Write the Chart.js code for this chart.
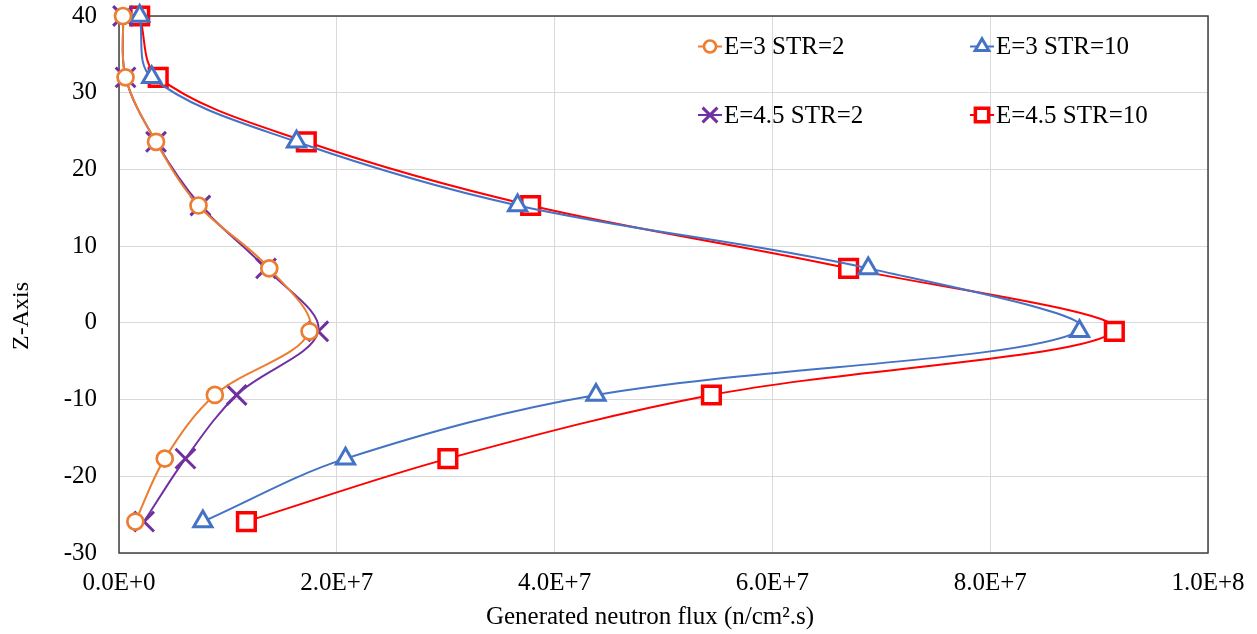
<!DOCTYPE html>
<html>
<head>
<meta charset="utf-8">
<script src="https://cdn.jsdelivr.net/npm/chart.js@4/dist/chart.umd.min.js"></script>
<style>
html,body{margin:0;padding:0;background:#fff;}
canvas{display:block;}
</style>
</head>
<body>
<canvas id="c" width="1257" height="634"></canvas>
<script>
// Z positions (y axis)
const zAxis = [40, 32, 23.6, 15.3, 7.1, -1.1, -9.4, -17.7, -25.9];
// Generated neutron flux (x axis) per series
const fluxE3S2   = [3.7e5, 6.0e5, 3.4e6, 7.3e6, 1.38e7, 1.75e7, 8.8e6, 4.2e6, 1.5e6];
const fluxE3S10  = [1.9e6, 3.0e6, 1.63e7, 3.66e7, 6.88e7, 8.82e7, 4.38e7, 2.08e7, 7.7e6];
const fluxE45S2  = [3.7e5, 6.0e5, 3.4e6, 7.47e6, 1.35e7, 1.83e7, 1.08e7, 6.1e6, 2.3e6];
const fluxE45S10 = [1.9e6, 3.6e6, 1.72e7, 3.78e7, 6.70e7, 9.14e7, 5.44e7, 3.02e7, 1.17e7];
const seriesLabels = ['E=3 STR=2', 'E=3 STR=10', 'E=4.5 STR=2', 'E=4.5 STR=10'];
const xTicks = [0, 2e7, 4e7, 6e7, 8e7, 1e8];
const yTicks = [-30, -20, -10, 0, 10, 20, 30, 40];
const xTitle = 'Generated neutron flux (n/cm\u00B2.s)';
const yTitle = 'Z-Axis';

const FONT = "'Liberation Serif', 'Times New Roman', serif";
const pts = (xs) => xs.map((x, i) => ({x: x, y: zAxis[i]}));

function mkDs(label, xs, color, style, radius, bw) {
  return {
    label: label, data: pts(xs), showLine: true, tension: 0.35,
    borderColor: color, borderWidth: 2, backgroundColor: '#ffffff',
    pointStyle: style, pointRadius: radius, pointHoverRadius: radius,
    pointBorderColor: color, pointBackgroundColor: '#ffffff', pointBorderWidth: bw,
    clip: false
  };
}

const datasets = [
  mkDs(seriesLabels[0], fluxE3S2, '#ED7D31', 'circle', 8, 2.7),
  mkDs(seriesLabels[1], fluxE3S10, '#4472C4', 'triangle', 10.5, 3),
  mkDs(seriesLabels[2], fluxE45S2, '#7030A0', 'crossRot', 14, 3),
  mkDs(seriesLabels[3], fluxE45S10, '#FF0000', 'rect', 12.5, 3.5)
];

function drawMarker(ctx, style, x, y, r, color, bw) {
  ctx.save();
  ctx.strokeStyle = color; ctx.fillStyle = '#fff'; ctx.lineWidth = bw;
  ctx.beginPath();
  if (style === 'circle') {
    ctx.arc(x, y, r, 0, Math.PI * 2); ctx.fill(); ctx.stroke();
  } else if (style === 'triangle') {
    for (let k = 0; k < 3; k++) {
      const a = k * 2 * Math.PI / 3;
      const px = x + Math.sin(a) * r, py = y - Math.cos(a) * r;
      if (k === 0) ctx.moveTo(px, py); else ctx.lineTo(px, py);
    }
    ctx.closePath(); ctx.fill(); ctx.stroke();
  } else if (style === 'crossRot') {
    const o = r * Math.SQRT1_2;
    ctx.moveTo(x - o, y - o); ctx.lineTo(x + o, y + o);
    ctx.moveTo(x - o, y + o); ctx.lineTo(x + o, y - o);
    ctx.stroke();
  } else if (style === 'rect') {
    const s = r * Math.SQRT1_2;
    ctx.rect(x - s, y - s, 2 * s, 2 * s); ctx.fill(); ctx.stroke();
  }
  ctx.restore();
}

const boxPlugin = {
  id: 'box',
  beforeDatasetsDraw(chart) {
    const a = chart.chartArea, ctx = chart.ctx;
    ctx.save();
    ctx.strokeStyle = '#404040'; ctx.lineWidth = 1.5;
    ctx.strokeRect(a.left, a.top, a.right - a.left, a.bottom - a.top);
    ctx.restore();
  },
  afterDraw(chart) {
    const ctx = chart.ctx;
    ctx.save();
    ctx.fillStyle = '#000';
    ctx.textAlign = 'center'; ctx.textBaseline = 'middle';
    ctx.font = "25px " + FONT;
    ctx.fillText(xTitle, 650, 617);
    ctx.translate(22, 316);
    ctx.rotate(-Math.PI / 2);
    ctx.font = "24px " + FONT;
    ctx.fillText(yTitle, 0, 0);
    ctx.restore();
  }
};

const legendPlugin = {
  id: 'gridLegend',
  afterDatasetsDraw(chart) {
    const ctx = chart.ctx;
    const cols = [710, 982];
    const rows = [46.5, 115];
    chart.data.datasets.forEach((ds, i) => {
      const cx = cols[i % 2], cy = rows[Math.floor(i / 2)];
      ctx.save();
      ctx.strokeStyle = ds.borderColor; ctx.lineWidth = 2;
      ctx.beginPath(); ctx.moveTo(cx - 12, cy); ctx.lineTo(cx + 12, cy); ctx.stroke();
      ctx.restore();
      drawMarker(ctx, ds.pointStyle, cx, cy, ds.pointRadius * 0.75, ds.borderColor, ds.pointBorderWidth);
      ctx.save();
      ctx.fillStyle = '#000';
      ctx.font = "25px " + FONT;
      ctx.textBaseline = 'middle'; ctx.textAlign = 'left';
      ctx.fillText(ds.label, cx + 14, cy + 1);
      ctx.restore();
    });
  }
};

new Chart(document.getElementById('c'), {
  type: 'scatter',
  data: { datasets: datasets },
  options: {
    responsive: false, animation: false, devicePixelRatio: 1,
    layout: { autoPadding: false, padding: 0 },
    plugins: { legend: { display: false }, tooltip: { enabled: false } },
    scales: {
      x: {
        type: 'linear', min: 0, max: 1e8,
        afterBuildTicks: (s) => { s.ticks = xTicks.map(v => ({value: v})); },
        afterFit: (s) => { s.height = 81; s.paddingLeft = 0; s.paddingRight = 49; },
        grid: { color: '#d9d9d9', lineWidth: 1, drawTicks: false },
        border: { display: false },
        ticks: { color: '#000', padding: 15, maxRotation: 0, font: { family: FONT, size: 25 },
          callback: (v) => Number(v).toExponential(1).toUpperCase() },
        title: { display: false }
      },
      y: {
        type: 'linear', min: -30, max: 40,
        afterBuildTicks: (s) => { s.ticks = yTicks.map(v => ({value: v})); },
        afterFit: (s) => { s.width = 119; s.paddingTop = 16; s.paddingBottom = 0; },
        grid: { color: '#d9d9d9', lineWidth: 1, drawTicks: false },
        border: { display: false },
        ticks: { color: '#000', padding: 22, font: { family: FONT, size: 25 } },
        title: { display: false }
      }
    }
  },
  plugins: [boxPlugin, legendPlugin]
});
</script>
</body>
</html>
